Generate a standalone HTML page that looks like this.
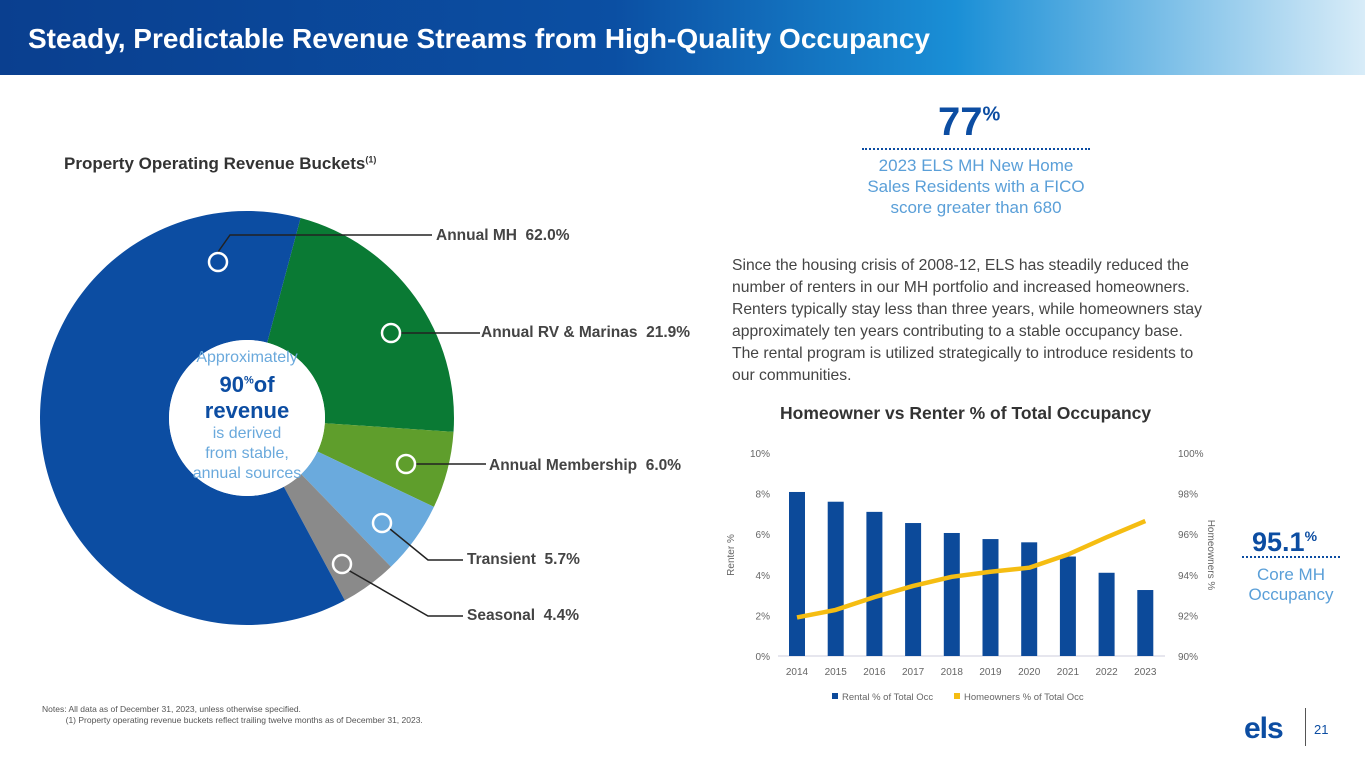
<!DOCTYPE html>
<html><head><meta charset="utf-8"><style>
body{margin:0;width:1365px;height:768px;position:relative;background:#fff;font-family:"Liberation Sans",sans-serif;overflow:hidden}
.abs{position:absolute}
#hdr{left:0;top:0;width:1365px;height:75px;background:linear-gradient(90deg,#0a3f8f 0%,#0b4fa3 45%,#1a8fd6 70%,#d8ecf8 100%)}
#title{left:28px;top:23px;color:#fff;font-size:28px;font-weight:bold}
.lbl{font-size:15.5px;font-weight:bold;color:#444}
</style></head><body>
<div class="abs" id="hdr"></div>
<div class="abs" id="title">Steady, Predictable Revenue Streams from High-Quality Occupancy</div>
<div class="abs" style="left:64px;top:154px;font-size:17px;font-weight:bold;color:#333">Property Operating Revenue Buckets<sup style="font-size:9px">(1)</sup></div>

<svg class="abs" id="donut" style="left:0;top:0" width="720" height="700"></svg>
<div class="abs" style="left:170px;top:348px;width:154px;text-align:center;color:#6aa9dc;font-size:16px;line-height:20px">Approximately<br><span style="color:#0c4da2;font-weight:bold;font-size:22px;line-height:26px">90<sup style="font-size:11px">%</sup>of<br>revenue</span><br>is derived<br>from stable,<br>annual sources</div>
<div class="abs lbl" style="left:436px;top:227px">Annual MH&nbsp; 62.0%</div>
<div class="abs lbl" style="left:481px;top:324px">Annual RV &amp; Marinas&nbsp; 21.9%</div>
<div class="abs lbl" style="left:489px;top:457px">Annual Membership&nbsp; 6.0%</div>
<div class="abs lbl" style="left:467px;top:551px">Transient&nbsp; 5.7%</div>
<div class="abs lbl" style="left:467px;top:607px">Seasonal&nbsp; 4.4%</div>

<div class="abs" style="left:938px;top:100px;font-size:40px;font-weight:bold;color:#0c4da2">77<sup style="font-size:20px">%</sup></div>
<div class="abs" style="left:862px;top:148px;width:228px;border-top:2px dotted #0c4da2"></div>
<div class="abs" style="left:856px;top:155px;width:240px;text-align:center;font-size:17px;line-height:21px;color:#5a9fd8">2023 ELS MH New Home Sales Residents with a FICO score greater than 680</div>
<div class="abs" style="left:732px;top:255px;width:480px;font-size:15.7px;line-height:22px;color:#444">Since the housing crisis of 2008-12, ELS has steadily reduced the number of renters in our MH portfolio and increased homeowners. Renters typically stay less than three years, while homeowners stay approximately ten years contributing to a stable occupancy base. The rental program is utilized strategically to introduce residents to our communities.</div>
<div class="abs" style="left:780px;top:403px;font-size:17.5px;font-weight:bold;color:#333">Homeowner vs Renter % of Total Occupancy</div>
<svg class="abs" id="bar" style="left:720px;top:430px" width="500" height="290"></svg>

<div class="abs" style="left:1252px;top:527px;font-size:27px;font-weight:bold;color:#0c4da2">95.1<sup style="font-size:14px">%</sup></div>
<div class="abs" style="left:1242px;top:556px;width:98px;border-top:2px dotted #0c4da2"></div>
<div class="abs" style="left:1236px;top:565px;width:110px;text-align:center;font-size:17px;line-height:20px;color:#5a9fd8">Core MH Occupancy</div>

<div class="abs" style="left:42px;top:704px;font-size:8.5px;color:#555;line-height:11px">Notes: All data as of December 31, 2023, unless otherwise specified.<br>&nbsp;&nbsp;&nbsp;&nbsp;&nbsp;&nbsp;&nbsp;&nbsp;&nbsp;&nbsp;(1) Property operating revenue buckets reflect trailing twelve months as of December 31, 2023.</div>
<div class="abs" style="left:1244px;top:712px;font-size:30px;font-weight:bold;color:#0c4da2;letter-spacing:-1px">els</div>
<div class="abs" style="left:1305px;top:708px;width:1px;height:38px;background:#555"></div>
<div class="abs" style="left:1314px;top:722px;font-size:13px;color:#0c4da2">21</div>

<script>
const sliceNames=["Annual RV & Marinas","Annual Membership","Transient","Seasonal","Annual MH"];
const sliceValues=[21.9,6.0,5.7,4.4,62.0];
const sliceColors=["#0a7a34","#5f9e2c","#6aaadd","#8a8a8a","#0c4da2"];
const ns="http://www.w3.org/2000/svg";
(function(){
const svg=document.getElementById('donut');const cx=247,cy=418,R=207,r=78;
const tot=sliceValues.reduce((a,b)=>a+b,0);let a=15;
const pt=(ang,rad)=>[cx+rad*Math.sin(ang*Math.PI/180),cy-rad*Math.cos(ang*Math.PI/180)];
sliceValues.forEach((v,i)=>{const s=a,e=a+v/tot*360;a=e;
const la=e-s>180?1:0;const p1=pt(s,R),p2=pt(e,R),p3=pt(e,r),p4=pt(s,r);
const p=document.createElementNS(ns,'path');
p.setAttribute('d',`M${p1}A${R},${R} 0 ${la} 1 ${p2}L${p3}A${r},${r} 0 ${la} 0 ${p4}Z`);
p.setAttribute('fill',sliceColors[i]);


svg.appendChild(p);});
const c=document.createElementNS(ns,'circle');c.setAttribute('cx',cx);c.setAttribute('cy',cy);c.setAttribute('r',r);c.setAttribute('fill','#fff');svg.appendChild(c);
const markers=[[391,333,480,333],[406,464,486,464],[382,523,463,560],[342,564,463,616],[218,262,432,235]];
markers.forEach((m,i)=>{const l=document.createElementNS(ns,'polyline');
let pts=i==4?`${m[0]},${m[1]-10} 230,235 ${m[2]},235`:i>=2?`${m[0]+(i==3?6:8)},${m[1]+6} ${m[2]-35},${m[3]} ${m[2]},${m[3]}`:`${m[0]+10},${m[1]} ${m[2]},${m[3]}`;
l.setAttribute('points',pts);l.setAttribute('fill','none');l.setAttribute('stroke','#222');l.setAttribute('stroke-width','1.5');svg.appendChild(l);
const o=document.createElementNS(ns,'circle');o.setAttribute('cx',m[0]);o.setAttribute('cy',m[1]);o.setAttribute('r',9);o.setAttribute('fill','none');o.setAttribute('stroke','#fff');o.setAttribute('stroke-width','2.5');


svg.appendChild(o);});
})();

const years=["2014","2015","2016","2017","2018","2019","2020","2021","2022","2023"];
const renterPct=[8.08,7.6,7.1,6.55,6.06,5.76,5.6,4.9,4.1,3.25];
const ownerPct=[91.9,92.27,92.9,93.45,93.9,94.15,94.35,95.0,95.85,96.65];
const leftTicks=["0%","2%","4%","6%","8%","10%"];
const rightTicks=["90%","92%","94%","96%","98%","100%"];
(function(){
const svg=document.getElementById('bar');
const y0=226,y1=23,x0=58,step=38.7;
const yL=v=>y0-(v/10)*(y0-y1), yR=v=>y0-((v-90)/10)*(y0-y1), xc=i=>x0+19+i*step;
const t=(x,y,s,anchor,extra)=>{const e=document.createElementNS(ns,'text');e.setAttribute('x',x);e.setAttribute('y',y);e.setAttribute('text-anchor',anchor||'middle');e.setAttribute('font-size','10');e.setAttribute('fill','#666');e.setAttribute('font-family','Liberation Sans, sans-serif');if(extra)e.setAttribute('transform',extra);e.textContent=s;svg.appendChild(e);return e;};
leftTicks.forEach((s,i)=>{const e=t(50,yL(i*2)+4,s,'end');});
rightTicks.forEach((s,i)=>{const e=t(458,yR(90+i*2)+4,s,'start');});
const ax=document.createElementNS(ns,'line');ax.setAttribute('x1',x0);ax.setAttribute('x2',x0+10*step);ax.setAttribute('y1',y0);ax.setAttribute('y2',y0);ax.setAttribute('stroke','#ccd');svg.appendChild(ax);
years.forEach((y,i)=>{const r=document.createElementNS(ns,'rect');r.setAttribute('x',xc(i)-8);r.setAttribute('width',16);r.setAttribute('y',yL(renterPct[i]));r.setAttribute('height',y0-yL(renterPct[i]));r.setAttribute('fill','#0c4a9a');


svg.appendChild(r);
const e=t(xc(i),245,y);});
const pl=document.createElementNS(ns,'polyline');pl.setAttribute('points',ownerPct.map((v,i)=>xc(i)+','+yR(v)).join(' '));pl.setAttribute('fill','none');pl.setAttribute('stroke','#f5bd12');pl.setAttribute('stroke-width','4.5');pl.setAttribute('stroke-linejoin','round');


svg.appendChild(pl);
t(14,125,'Renter %','middle','rotate(-90 14 125)');
t(488,125,'Homeowners %','middle','rotate(90 488 125)');
const lg=[[112,'#0c4a9a','Rental % of Total Occ'],[234,'#f5bd12','Homeowners % of Total Occ']];
lg.forEach(l=>{const r=document.createElementNS(ns,'rect');r.setAttribute('x',l[0]);r.setAttribute('y',263);r.setAttribute('width',6);r.setAttribute('height',6);r.setAttribute('fill',l[1]);svg.appendChild(r);
const e=t(l[0]+10,270,l[2],'start');e.setAttribute('font-size','9.5');});
})();
</script>
</body></html>
